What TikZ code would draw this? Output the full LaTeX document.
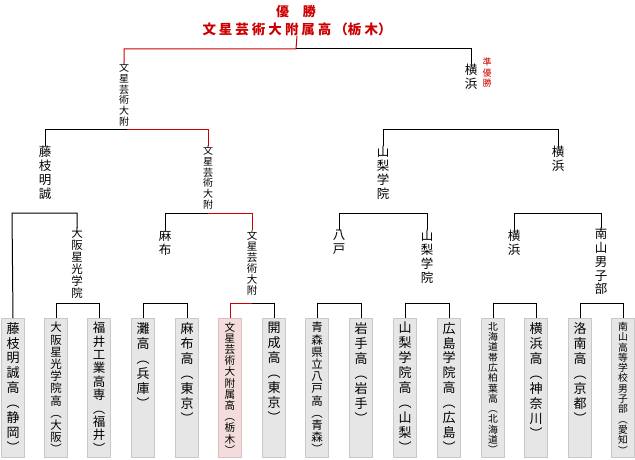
\documentclass[tikz,border=0pt]{standalone}
\usepackage{fontspec}
\newfontfamily\cjk{Noto Sans CJK JP}
\definecolor{wred}{RGB}{204,0,0}
\definecolor{boxg}{RGB}{230,230,230}
\definecolor{boxd}{RGB}{200,200,200}
\definecolor{boxp}{RGB}{242,220,220}
\definecolor{boxpd}{RGB}{225,190,190}
\tikzset{
  bl/.style={line width=1pt,black},
  rl/.style={line width=1pt,wred},
  leafbox/.style={draw=boxd,fill=boxg,line width=1pt,minimum width=23pt,minimum height=139pt,anchor=north,inner sep=0},
  winbox/.style={leafbox,draw=boxpd,fill=boxp},
  vtext/.style={anchor=north,align=center,inner sep=0}
}
\newcommand\vlab[6]{\node[vtext,font=\cjk\fontsize{#4}{#5}\selectfont] (#1) at (#2,#3) {#6};}
\newcommand\leafx[6]{\node[#6] (b#1) at (#2,318) {};
  \node[vtext,font=\cjk\fontsize{#3}{#4}\selectfont] (lt#1) at (#2,322) {#5};}
\begin{document}
\begin{tikzpicture}[x=1pt,y=-1pt]
\useasboundingbox (0,0) rectangle (635,460);
% title
\node[inner sep=0,font=\cjk\bfseries\fontsize{13}{13}\selectfont,text=wred] (title1) at (296,12) {優\hspace{14pt}勝};
\node[inner sep=0,font=\cjk\bfseries\fontsize{13.5}{13.5}\selectfont,text=wred] (title2) at (297,29) {文\hspace{3pt}星\hspace{3pt}芸\hspace{3pt}術\hspace{3pt}大\hspace{3pt}附\hspace{3pt}属\hspace{3pt}高\hspace{3pt}（栃\hspace{3pt}木）};
% leaves
\leafx{1}{13}{13}{14.9}{藤\\枝\\明\\誠\\高\\︵\\静\\岡\\︶}{leafbox}
\leafx{2}{56}{11.5}{12.2}{大\\阪\\星\\光\\学\\院\\高\\︵\\大\\阪\\︶}{leafbox}
\leafx{3}{99}{12.5}{13.4}{福\\井\\工\\業\\高\\専\\︵\\福\\井\\︶}{leafbox}
\leafx{4}{143}{13}{15}{灘\\高\\︵\\兵\\庫\\︶}{leafbox}
\leafx{5}{187}{13}{15}{麻\\布\\高\\︵\\東\\京\\︶}{leafbox}
\leafx{6}{230}{10.6}{11.2}{文\\星\\芸\\術\\大\\附\\属\\高\\︵\\栃\\木\\︶}{winbox}
\leafx{7}{274}{13}{15}{開\\成\\高\\︵\\東\\京\\︶}{leafbox}
\leafx{8}{317}{11.5}{12.2}{青\\森\\県\\立\\八\\戸\\高\\︵\\青\\森\\︶}{leafbox}
\leafx{9}{361}{13}{15}{岩\\手\\高\\︵\\岩\\手\\︶}{leafbox}
\leafx{10}{405}{13}{14.9}{山\\梨\\学\\院\\高\\︵\\山\\梨\\︶}{leafbox}
\leafx{11}{449}{13}{14.9}{広\\島\\学\\院\\高\\︵\\広\\島\\︶}{leafbox}
\leafx{12}{493}{9.8}{10.3}{北\\海\\道\\帯\\広\\柏\\葉\\高\\︵\\北\\海\\道\\︶}{leafbox}
\leafx{13}{536}{13}{15}{横\\浜\\高\\︵\\神\\奈\\川\\︶}{leafbox}
\leafx{14}{580}{13}{15}{洛\\南\\高\\︵\\京\\都\\︶}{leafbox}
\leafx{15}{623}{9.8}{10.3}{南\\山\\高\\等\\学\\校\\男\\子\\部\\︵\\愛\\知\\︶}{leafbox}
% labels
\vlab{f0}{124}{63}{10}{10.7}{文\\星\\芸\\術\\大\\附}
\vlab{y0}{471}{64}{12.5}{14}{横\\浜}
\node[vtext,font=\cjk\fontsize{9}{10.5}\selectfont,text=wred] (jy) at (487,58) {準\\優\\勝};
\vlab{a1}{45}{146}{12.5}{14}{藤\\枝\\明\\誠}
\vlab{a2}{208}{146}{10}{10.7}{文\\星\\芸\\術\\大\\附}
\vlab{a3}{383}{146}{12.5}{14}{山\\梨\\学\\院}
\vlab{a4}{558}{146}{12.5}{14}{横\\浜}
\vlab{c1}{77}{228}{11.5}{12}{大\\阪\\星\\光\\学\\院}
\vlab{c2}{165}{230}{12.5}{14}{麻\\布}
\vlab{c3}{252}{230}{10.5}{11}{文\\星\\芸\\術\\大\\附}
\vlab{c4}{339}{230}{12.5}{14}{八\\戸}
\vlab{c5}{427}{230}{12.5}{14}{山\\梨\\学\\院}
\vlab{c6}{514}{230}{12.5}{14}{横\\浜}
\vlab{c7}{601}{228}{12.5}{13.8}{南\\山\\男\\子\\部}
% top bracket
\draw[rl] (title2.south) -- (296,49) -- (124,49) -- (f0.north);
\draw[bl] (296,49) -- (471,49) -- (y0.north);
% level 3
\draw[bl] (a1.north) -- (45,129) -- (127,129);
\draw[rl] (127,129) -- (208,129) -- (a2.north);
\draw[bl] (a3.north) -- (383,129) -- (558,129) -- (a4.north);
% level 2
\draw[bl] (b1.north) -- (12,213) -- (77,213) -- (c1.north);
\draw[bl] (c2.north) -- (165,213) -- (208,213);
\draw[rl] (208,213) -- (252,213) -- (c3.north);
\draw[bl] (c4.north) -- (339,213) -- (427,213) -- (c5.north);
\draw[bl] (c6.north) -- (514,213) -- (601,213) -- (c7.north);
% level 1
\draw[bl] (b2.north) -- (56,303) -- (99,303) -- (b3.north);
\draw[bl] (b4.north) -- (143,303) -- (187,303) -- (b5.north);
\draw[rl] (b6.north) -- (230,303) -- (252,303);
\draw[bl] (252,303) -- (274,303) -- (b7.north);
\draw[bl] (b8.north) -- (317,303) -- (361,303) -- (b9.north);
\draw[bl] (b10.north) -- (405,303) -- (449,303) -- (b11.north);
\draw[bl] (b12.north) -- (493,303) -- (536,303) -- (b13.north);
\draw[bl] (b14.north) -- (580,303) -- (623,303) -- (b15.north);
\end{tikzpicture}
\end{document}
